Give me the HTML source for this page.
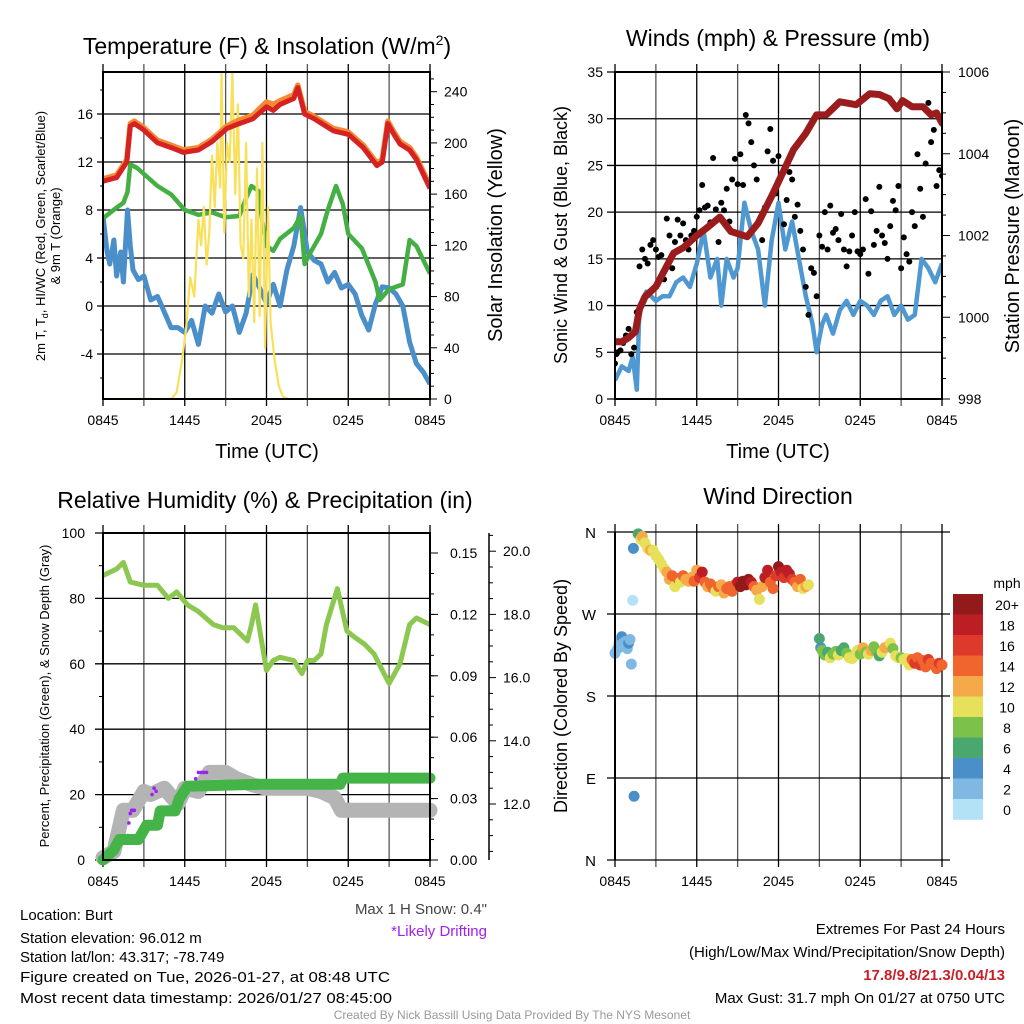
<!DOCTYPE html>
<html><head><meta charset="utf-8">
<style>
html,body{margin:0;padding:0;background:#fff;}
svg{display:block;font-family:"Liberation Sans",sans-serif;}
</style></head>
<body>
<svg id="fig" width="1024" height="1024" viewBox="0 0 1024 1024" xmlns="http://www.w3.org/2000/svg">
<rect width="1024" height="1024" fill="#fff"/>
<g id="p1"></g>
<g id="p2"></g>
<g id="p3"></g>
<g id="p4"></g>

<text x="267" y="54" font-size="23" text-anchor="middle">Temperature (F) &amp; Insolation (W/m<tspan dy="-9" font-size="14">2</tspan><tspan dy="9">)</tspan></text>
<text x="778" y="46" font-size="23" text-anchor="middle">Winds (mph) &amp; Pressure (mb)</text>
<text x="265" y="508" font-size="23" text-anchor="middle">Relative Humidity (%) &amp; Precipitation (in)</text>
<text x="778" y="504" font-size="23" text-anchor="middle">Wind Direction</text>

<text x="267" y="458" font-size="20" text-anchor="middle">Time (UTC)</text>
<text x="778" y="458" font-size="20" text-anchor="middle">Time (UTC)</text>

<text transform="translate(45,236) rotate(-90)" font-size="13" text-anchor="middle">2m T, T<tspan font-size="9" dy="3">d</tspan><tspan dy="-3">, HI/WC (Red, Green, Scarlet/Blue)</tspan></text>
<text transform="translate(60,236) rotate(-90)" font-size="13" text-anchor="middle">&amp; 9m T (Orange)</text>
<text transform="translate(502,235) rotate(-90)" font-size="20" text-anchor="middle">Solar Insolation (Yellow)</text>
<text transform="translate(567,235) rotate(-90)" font-size="18" text-anchor="middle">Sonic Wind &amp; Gust (Blue, Black)</text>
<text transform="translate(1019,236) rotate(-90)" font-size="20" text-anchor="middle">Station Pressure (Maroon)</text>
<text transform="translate(49,696) rotate(-90)" font-size="13" text-anchor="middle">Percent, Precipitation (Green), &amp; Snow Depth (Gray)</text>
<text transform="translate(567,696) rotate(-90)" font-size="18" text-anchor="middle">Direction (Colored By Speed)</text>

<text x="487" y="914" font-size="15" text-anchor="end" fill="#444">Max 1 H Snow: 0.4"</text>
<text x="487" y="936" font-size="15" text-anchor="end" fill="#a020f0">*Likely Drifting</text>

<g font-size="15">
<text x="20" y="920">Location: Burt</text>
<text x="20" y="943">Station elevation: 96.012 m</text>
<text x="20" y="962">Station lat/lon: 43.317; -78.749</text>
<text x="20" y="982" textLength="370" lengthAdjust="spacingAndGlyphs">Figure created on Tue, 2026-01-27, at 08:48 UTC</text>
<text x="20" y="1003" textLength="372" lengthAdjust="spacingAndGlyphs">Most recent data timestamp: 2026/01/27 08:45:00</text>
</g>
<g font-size="15" text-anchor="end">
<text x="1005" y="934">Extremes For Past 24 Hours</text>
<text x="1005" y="957">(High/Low/Max Wind/Precipitation/Snow Depth)</text>
<text x="1005" y="980" font-weight="bold" fill="#c8202a">17.8/9.8/21.3/0.04/13</text>
<text x="1005" y="1003">Max Gust: 31.7 mph On 01/27 at 0750 UTC</text>
</g>
<text x="512" y="1019" font-size="12" text-anchor="middle" fill="#999">Created By Nick Bassill Using Data Provided By The NYS Mesonet</text>
</svg>

<script>
// ---------- DATA ----------
const xTickLabels = ["0845","1445","2045","0245","0845"];
// Panel 1
const tempHours = [0,1,1.75,2,2.3,2.95,4,5,5.9,7,8,9.1,10,11,12,12.5,13,14,14.3,14.8,15.5,16.2,16.9,18,19.1,20.1,20.5,20.9,21.3,21.8,22.5,23,23.5,24];
const tempVals  = [10.4,10.7,12,15.0,15.2,14.7,13.6,13.2,12.8,13.0,13.7,14.8,15.2,15.6,16.6,16.3,16.8,17.3,18.2,16.0,15.6,15.1,14.6,14.3,13.2,11.7,12.0,15.2,14.4,13.5,13.0,12.2,11.0,9.8];
const temp9mVals= [10.6,10.9,12.2,15.2,15.4,14.9,13.8,13.4,13.0,13.2,13.9,15.0,15.5,15.9,17.0,16.8,17.1,17.6,18.4,16.2,15.8,15.3,14.8,14.5,13.4,11.9,12.2,15.4,14.6,13.7,13.2,12.4,11.2,10.0];
const dewHours = [0,1,1.5,1.8,2,2.5,3,4,5,6,7,8,9,10,10.5,10.9,11.4,11.7,12,12.5,13,14,14.5,14.8,15.2,16,16.5,17.1,17.6,18,19,20,20.3,21,22,22.5,23,24];
const dewVals  = [7.3,8.2,8.6,9.5,11.8,11.5,11.0,10.0,9.3,8.0,7.6,7.8,7.4,7.5,9.0,10.0,9.6,7.0,5.0,4.6,5.6,6.5,7.5,3.5,4.4,6.0,8.0,10.0,8.5,6.0,4.8,2.0,0.5,1.4,1.8,5.5,5.0,2.7];
const chillHours = [0,0.3,0.5,0.8,1,1.3,1.5,1.8,2,2.2,2.6,3,3.5,4,4.5,5,5.5,6,6.5,7,7.5,8,8.5,9,9.5,10,10.5,11,11.5,12,12.5,13,13.5,14,14.5,15,15.5,16,16.5,17,17.5,18,18.5,19,19.5,20,20.5,21,21.5,22,22.5,23,23.5,24];
const chillVals  = [7.5,4.5,3.5,5.5,2.5,4.5,2.0,8.0,5.0,3.0,2.2,2.5,0.5,0.8,-0.5,-1.8,-1.8,-2.2,-1.2,-3.2,0.0,-0.6,1.0,-0.5,0.0,-2.2,-0.6,2.6,1.5,0.2,1.8,0.0,3.0,5.0,8.2,4.5,3.8,3.5,2.0,2.8,1.5,1.8,1.0,-0.8,-2.0,0.2,1.6,1.5,1.0,0.0,-3.0,-4.8,-5.5,-6.5];
const solarHours = [0,5,5.4,5.8,6.1,6.4,6.7,7,7.2,7.4,7.6,7.8,8,8.2,8.4,8.6,8.7,8.9,9.1,9.3,9.5,9.7,9.9,10.1,10.3,10.5,10.7,10.9,11.1,11.3,11.5,11.7,11.9,12.1,12.3,12.6,12.9,13.2,13.6,14,24];
const solarVals  = [0,0,5,30,55,95,80,140,120,150,105,130,190,150,200,165,255,130,200,185,255,160,230,120,110,200,80,140,60,180,65,200,40,150,60,30,10,2,0,0,0];
// Panel 2
const windHours = [0,0.5,1,1.3,1.6,1.8,2.3,3,3.5,4,4.5,5,5.5,6,6.5,7,7.5,7.8,8.2,8.7,9,9.5,10,10.5,11,11.5,12,12.5,13,13.5,14,14.5,14.8,15.2,15.5,16,16.5,17,17.5,18,18.5,19,19.5,20,20.5,21,21.5,22,22.5,23,23.5,24];
const windVals  = [2,3.5,3,4.5,1,10,11.5,10.5,11,11,12.5,13,12,14.5,18,13,15,10,15,13,14,21,18,16,10,17,21,16,19,15,11,8,5,8,9,7,9.5,10.5,9,10.5,10,9,10.5,11,9,10,8.5,9,15,14,12.5,14.5];
const gustHours = [0,0.1,0.2,0.4,0.6,0.8,1,1.2,1.4,1.6,1.8,2,2.2,2.4,2.6,2.8,3,3.2,3.4,3.6,3.8,4,4.2,4.4,4.6,4.8,5,5.2,5.4,5.6,5.8,6,6.2,6.4,6.6,6.8,7,7.2,7.4,7.6,7.8,8,8.2,8.4,8.6,8.8,9,9.2,9.4,9.6,9.8,10,10.2,10.4,10.6,10.8,11,11.2,11.4,11.6,11.8,12,12.2,12.4,12.6,12.8,13,13.2,13.4,13.6,13.8,14,14.2,14.4,14.6,14.8,15,15.2,15.4,15.6,15.8,16,16.2,16.4,16.6,16.8,17,17.2,17.4,17.6,17.8,18,18.2,18.4,18.6,18.8,19,19.2,19.4,19.6,19.8,20,20.2,20.4,20.6,20.8,21,21.2,21.4,21.6,21.8,22,22.2,22.4,22.6,22.8,23,23.2,23.4,23.6,23.8,24];
const gustVals  = [3.8,4.8,5,5.2,6,6.8,7.5,4.8,5.5,9.3,14.2,16,15,14.5,16.5,17,16,15.2,15.4,12.8,19.3,17.5,14,16.8,19.2,17.5,18.8,17,16,17.5,18,19.5,20.2,22.9,20.5,20.7,18.9,25.8,20.3,16.8,21,20.2,22.5,19,23.5,25.7,23,26.2,22.9,30.4,29.5,27.5,25,23.5,19,17,20.5,26.5,28.9,25.5,22,26,24,18.7,21.3,24.3,23.5,19.5,20.8,18,16,12,9,14,13.5,11,17.5,16.3,20,16,20.7,17.8,18.2,17,19.8,16,14.2,15.8,17.5,20,15.8,15.5,16,21.4,13.4,20.1,16.5,18,22.7,17.5,16.7,15,18.5,21.2,20.2,22.8,14,17.3,15.5,14.7,20,18.5,26.2,22.5,19.5,25.2,31.7,27.5,28.8,22.8,24.5,23.9];
const presHours = [0,0.5,1,1.5,1.8,2.2,3,4.3,5,6,6.8,7.7,8.5,9.7,10.5,11.6,12.4,13.1,14,14.8,15.5,16.5,17.7,18.7,19.4,20.1,20.7,21.1,21.8,22.6,23.2,23.6,24];
const presVals  = [999.4,999.4,999.5,999.65,1000.2,1000.5,1000.75,1001.57,1001.7,1002.0,1002.2,1002.45,1002.1,1001.97,1002.3,1003.03,1003.6,1004.1,1004.5,1004.95,1004.95,1005.27,1005.2,1005.47,1005.45,1005.35,1005.1,1005.3,1005.15,1005.15,1004.95,1005.0,1004.75];
// Panel 3
const rhHours = [0,1,1.5,2,3,4,4.8,5.4,6.2,7,8.1,8.8,9.6,10.6,10.9,11.2,11.6,12,12.5,13,14,14.6,15,15.5,16,16.4,17.2,17.9,18.5,19.2,19.9,20.5,21,21.8,22.5,23,24];
const rhVals  = [87,89,91,85,84,84,80,82,78,76,72,71,71,67,72,78,68,58,61,62,61,57,61,61,63,72,83,70,68,66,63,58,54,60,72,74,72];
const precipHours = [0,0.8,1.2,2.6,3.2,4.0,4.2,5.3,5.6,6.2,11.5,17.4,17.6,24];
const precipVals  = [0,0.005,0.01,0.01,0.017,0.017,0.024,0.024,0.03,0.036,0.037,0.037,0.040,0.040];
const snowHours = [0,0.8,1.5,2.2,3,3.5,4.5,5.5,6,7,7.8,9,9.8,11,12,13.5,15,16,17,17.5,24];
const snowVals  = [10.3,10.5,11.8,11.8,12.4,12.3,12.5,12.0,12.5,12.4,13.0,13.0,12.8,12.6,12.5,12.5,12.5,12.4,12.2,11.8,11.8];
const driftHours = [1.8,1.9,2.0,2.1,2.2,2.3,3.6,3.75,3.9,6.6,6.8,7.0,7.2,7.4,7.6];
const driftVals  = [11.0,11.4,11.7,11.8,11.8,11.8,12.3,12.5,12.4,12.6,12.8,13.0,13.0,13.0,13.0];
// Panel 4
const dirHours = [0,0.2,0.3,0.4,0.5,0.6,0.7,0.8,0.9,1.0,1.1,1.2,1.3,1.35,1.4,1.7,1.9,2.0,2.2,2.4,2.6,2.8,3.0,3.2,3.4,3.6,3.8,4.0,4.2,4.4,4.6,4.8,5.0,5.2,5.4,5.6,5.8,6.0,6.2,6.4,6.6,6.8,7.0,7.2,7.4,7.6,7.8,8.0,8.2,8.4,8.6,8.8,9.0,9.2,9.4,9.6,9.8,10.0,10.2,10.4,10.6,10.8,11.0,11.2,11.4,11.6,11.8,12.0,12.2,12.4,12.6,12.8,13.0,13.2,13.4,13.6,13.8,14.0,14.2,15.0,15.1,15.2,15.4,15.6,15.8,16.0,16.2,16.4,16.6,16.8,17.0,17.2,17.4,17.6,17.8,18.0,18.2,18.4,18.6,18.8,19.0,19.2,19.4,19.6,19.8,20.0,20.2,20.4,20.6,20.8,21.0,21.2,21.4,21.6,21.8,22.0,22.2,22.4,22.6,22.8,23.0,23.2,23.4,23.6,23.8,24.0];
const dirDeg = [227,232,238,236,245,238,235,240,232,238,242,215,285,342,70,358,352,355,348,342,340,340,334,330,325,320,316,308,312,300,309,305,312,308,306,310,306,318,310,316,305,300,303,298,295,300,302,293,298,300,295,302,305,300,306,302,308,305,300,296,286,300,310,318,305,298,312,322,316,310,318,314,308,305,300,308,298,300,302,243,233,230,225,228,222,226,229,225,230,233,227,222,221,224,230,226,233,228,226,230,234,229,224,228,233,234,238,232,224,222,222,220,221,214,220,216,222,214,219,212,220,216,214,210,216,214];
const dirSpeed = [3,2,2,3,4,2,2,3,2,4,2,2,1,4,4,7,10,12,10,11,12,11,10,10,10,10,12,12,14,10,14,10,15,12,12,12,14,12,16,18,14,12,14,14,10,14,12,12,14,14,14,14,18,20,20,20,20,18,14,12,10,12,18,18,14,14,16,20,18,16,18,18,16,14,12,14,10,12,10,6,4,8,8,6,10,8,8,10,6,6,8,10,10,10,10,8,12,8,10,12,8,8,6,10,12,12,10,8,10,10,8,10,10,10,14,16,14,16,14,14,16,14,14,14,16,14];
const speedBinLabels = ["20+","18","16","14","12","10","8","6","4","2","0"];
const dirLabels = ["N","W","S","E","N"];

// ---------- HELPERS ----------
const NS="http://www.w3.org/2000/svg";
function mk(parent,tag,attrs){const e=document.createElementNS(NS,tag);for(const k in attrs)e.setAttribute(k,attrs[k]);parent.appendChild(e);return e;}
function lin(d0,d1,r0,r1){return v=>r0+(v-d0)*(r1-r0)/(d1-d0);}
function pathD(xs,ys,sx,sy){return xs.map((h,i)=>(i?"L":"M")+sx(h).toFixed(1)+","+sy(ys[i]).toFixed(1)).join("");}
const speedColors=["#b3e2f6","#7fb9e3","#4a8fc7","#4aa86e","#7cc24a","#e6e05a","#f6a948","#f0642e","#de3a2b","#bd1e24","#931a1b"];
function speedColor(s){let i=Math.floor(s/2);if(i>10)i=10;if(i<0)i=0;return speedColors[i];}

function frame(g,X0,X1,Y0,Y1,sx){
  // vertical gridlines every 3 h
  for(let h=0;h<=24;h+=3){
    const x=sx(h);
    const l=mk(g,"line",{x1:x,x2:x,y1:Y0-8,y2:Y1+7,stroke:(h%6===0?"#000":"#555"),"stroke-width":1.3});
    
    
  }
  xTickLabels.forEach((t,i)=>{
    const tx=mk(g,"text",{x:sx(i*6),y:Y1+26,"font-size":14,"text-anchor":"middle"});
    tx.textContent=t;
    
    
  });
}
function hgrid(g,X0,X1,y,len){
  const l=mk(g,"line",{x1:X0-len,x2:X1,y1:y,y2:y,stroke:"#000","stroke-width":1.3});
  
  
}
function box(g,X0,X1,Y0,Y1){
  const r=mk(g,"rect",{x:X0,y:Y0,width:X1-X0,height:Y1-Y0,fill:"none",stroke:"#000","stroke-width":2});
  
  
}
function label(g,x,y,t,anchor,size){
  const tx=mk(g,"text",{x:x,y:y,"font-size":size||14,"text-anchor":anchor});
  tx.textContent=t;
  
  
  return tx;
}
function tick(g,x1,x2,y){mk(g,"line",{x1:x1,x2:x2,y1:y,y2:y,stroke:"#000","stroke-width":1});}

// ---------- PANEL 1 ----------
(function(){
  const g=document.getElementById("p1");
  const X0=103,X1=430,Y0=72,Y1=399;
  const sx=lin(0,24,X0,X1), sy=lin(0,-4,306,354), sr=lin(0,240,399,91.7);
  frame(g,X0,X1,Y0,Y1,sx);
  for(let v=-4;v<=16;v+=4){hgrid(g,X0,X1,sy(v),6);label(g,X0-10,sy(v)+5,String(v),"end");}
  for(let v=-6;v<=18;v+=4){tick(g,X0-3,X0,sy(v));}
  for(let v=0;v<=240;v+=40){tick(g,X1,X1+7,sr(v));label(g,X1+14,sr(v)+5,String(v),"start");}
  for(let v=10;v<=250;v+=10){if(v%40)tick(g,X1,X1+4,sr(v));}
  const clip=mk(g,"clipPath",{id:"c1"});mk(clip,"rect",{x:X0,y:Y0,width:X1-X0,height:Y1-Y0});
  const lg=mk(g,"g",{"clip-path":"url(#c1)"});
  let p;
  p=mk(lg,"path",{d:pathD(chillHours,chillVals,sx,sy),fill:"none",stroke:"#4a8fc9","stroke-width":5,"stroke-linejoin":"round"});
  
  p=mk(lg,"path",{d:pathD(dewHours,dewVals,sx,sy),fill:"none",stroke:"#44b044","stroke-width":4.5,"stroke-linejoin":"round"});
  
  p=mk(lg,"path",{d:pathD(solarHours,solarVals,sx,sr),fill:"none",stroke:"#f8e05a","stroke-width":2.2,"stroke-linejoin":"round"});
  
  p=mk(lg,"path",{d:pathD(tempHours,temp9mVals,sx,sy),fill:"none",stroke:"#f58a32","stroke-width":5.5,"stroke-linejoin":"round"});
  
  p=mk(lg,"path",{d:pathD(tempHours,tempVals,sx,sy),fill:"none",stroke:"#d62222","stroke-width":5,"stroke-linejoin":"round"});
  
  box(g,X0,X1,Y0,Y1);
})();

// ---------- PANEL 2 ----------
(function(){
  const g=document.getElementById("p2");
  const X0=615,X1=942,Y0=72,Y1=399;
  const sx=lin(0,24,X0,X1), sy=lin(0,35,Y1,Y0), sp=lin(998,1006,Y1,Y0);
  frame(g,X0,X1,Y0,Y1,sx);
  for(let v=0;v<=35;v+=5){hgrid(g,X0,X1,sy(v),8);label(g,X0-12,sy(v)+5,String(v),"end");}
  for(let v=998;v<=1006;v+=2){tick(g,X1,X1+8,sp(v));label(g,X1+16,sp(v)+5,String(v),"start");}
  for(let v=998.5;v<1006;v+=0.5){if(v%2)tick(g,X1,X1+4,sp(v));}
  const clip=mk(g,"clipPath",{id:"c2"});mk(clip,"rect",{x:X0,y:Y0,width:X1-X0,height:Y1-Y0});
  const lg=mk(g,"g",{"clip-path":"url(#c2)"});
  let p=mk(lg,"path",{d:pathD(windHours,windVals,sx,sy),fill:"none",stroke:"#4f98d2","stroke-width":4.5,"stroke-linejoin":"round"});
  
  gustHours.forEach((h,i)=>{
    const c=mk(lg,"circle",{cx:sx(h),cy:sy(gustVals[i]),r:3,fill:"#000"});
    
    
  });
  p=mk(lg,"path",{d:pathD(presHours,presVals,sx,sp),fill:"none",stroke:"#9b1c1c","stroke-width":7,"stroke-linejoin":"round","stroke-linecap":"round"});
  
  box(g,X0,X1,Y0,Y1);
})();

// ---------- PANEL 3 ----------
(function(){
  const g=document.getElementById("p3");
  const X0=103,X1=430,Y0=533,Y1=860;
  const sx=lin(0,24,X0,X1), sy=lin(0,100,Y1,Y0), sp=lin(0,0.15,Y1,553), ss=lin(12,14,804,740.8);
  frame(g,X0,X1,Y0,Y1,sx);
  for(let v=0;v<=100;v+=20){hgrid(g,X0,X1,sy(v),8);label(g,X0-18,sy(v)+5,String(v),"end");}
  for(let v=10;v<100;v+=20){tick(g,X0-4,X0,sy(v));}
  for(let i=0;i<=5;i++){const v=i*0.03;tick(g,X1,X1+8,sp(v));label(g,X1+20,sp(v)+5,v.toFixed(2),"start");}
  for(let v=0.01;v<0.16;v+=0.01){tick(g,X1,X1+4,sp(v));}
  const ax=mk(g,"line",{x1:489,x2:489,y1:Y0,y2:Y1,stroke:"#000","stroke-width":1.5});
  
  for(let v=12;v<=20;v+=2){tick(g,489,496,ss(v));label(g,503,ss(v)+5,v.toFixed(1),"start");}
  for(let v=10.5;v<=20.5;v+=0.5){if(v%2&&ss(v)>=Y0&&ss(v)<=Y1)tick(g,489,493,ss(v));}
  const clip=mk(g,"clipPath",{id:"c3"});mk(clip,"rect",{x:X0-8,y:Y0,width:X1-X0+16,height:Y1-Y0+8});
  const lg=mk(g,"g",{"clip-path":"url(#c3)"});
  let p=mk(lg,"path",{d:pathD(rhHours,rhVals,sx,sy),fill:"none",stroke:"#8cc850","stroke-width":5,"stroke-linejoin":"round"});
  
  p=mk(lg,"path",{d:pathD(snowHours,snowVals,sx,ss),fill:"none",stroke:"#b4b4b4","stroke-width":15,"stroke-linejoin":"round","stroke-linecap":"round"});
  
  driftHours.forEach((h,i)=>{
    const c=mk(lg,"circle",{cx:sx(h),cy:ss(driftVals[i]),r:1.8,fill:"#a020f0"});
    
    
  });
  p=mk(lg,"path",{d:pathD(precipHours,precipVals,sx,sp),fill:"none",stroke:"#44b448","stroke-width":11,"stroke-linejoin":"round","stroke-linecap":"round"});
  
  box(g,X0,X1,Y0,Y1);
})();

// ---------- PANEL 4 ----------
(function(){
  const g=document.getElementById("p4");
  const X0=615,X1=942,Y0=532,Y1=860;
  const sx=lin(0,24,X0,X1), sy=lin(0,360,Y1,Y0);
  frame(g,X0,X1,Y0,Y1,sx);
  dirLabels.forEach((t,i)=>{const v=360-i*90;hgrid(g,X0,X1+8,sy(v),8);label(g,X0-19,sy(v)+6,t,"end",15);});
  const clip=mk(g,"clipPath",{id:"c4"});mk(clip,"rect",{x:X0-6,y:Y0-6,width:X1-X0+12,height:Y1-Y0+12});
  const lg=mk(g,"g",{"clip-path":"url(#c4)"});
  dirHours.forEach((h,i)=>{
    const c=mk(lg,"circle",{cx:sx(h),cy:sy(dirDeg[i]),r:5.5,fill:speedColor(dirSpeed[i])});
    
    
  });
  mk(g,"line",{x1:X0,x2:X0,y1:Y0,y2:Y1,stroke:"#000","stroke-width":2});
  const lt=mk(g,"text",{x:1007,y:588,"font-size":14,"text-anchor":"middle"});
  lt.textContent="mph";
  
  
  speedBinLabels.forEach((t,i)=>{
    const y=594+i*20.5;
    const r=mk(g,"rect",{x:953,y:y,width:30,height:20.8,fill:speedColors[10-i]});
    
    
    const tx=mk(g,"text",{x:1007,y:y+16,"font-size":14,"text-anchor":"middle"});
    tx.textContent=t;
    
    
  });
})();
</script>
</body></html>
